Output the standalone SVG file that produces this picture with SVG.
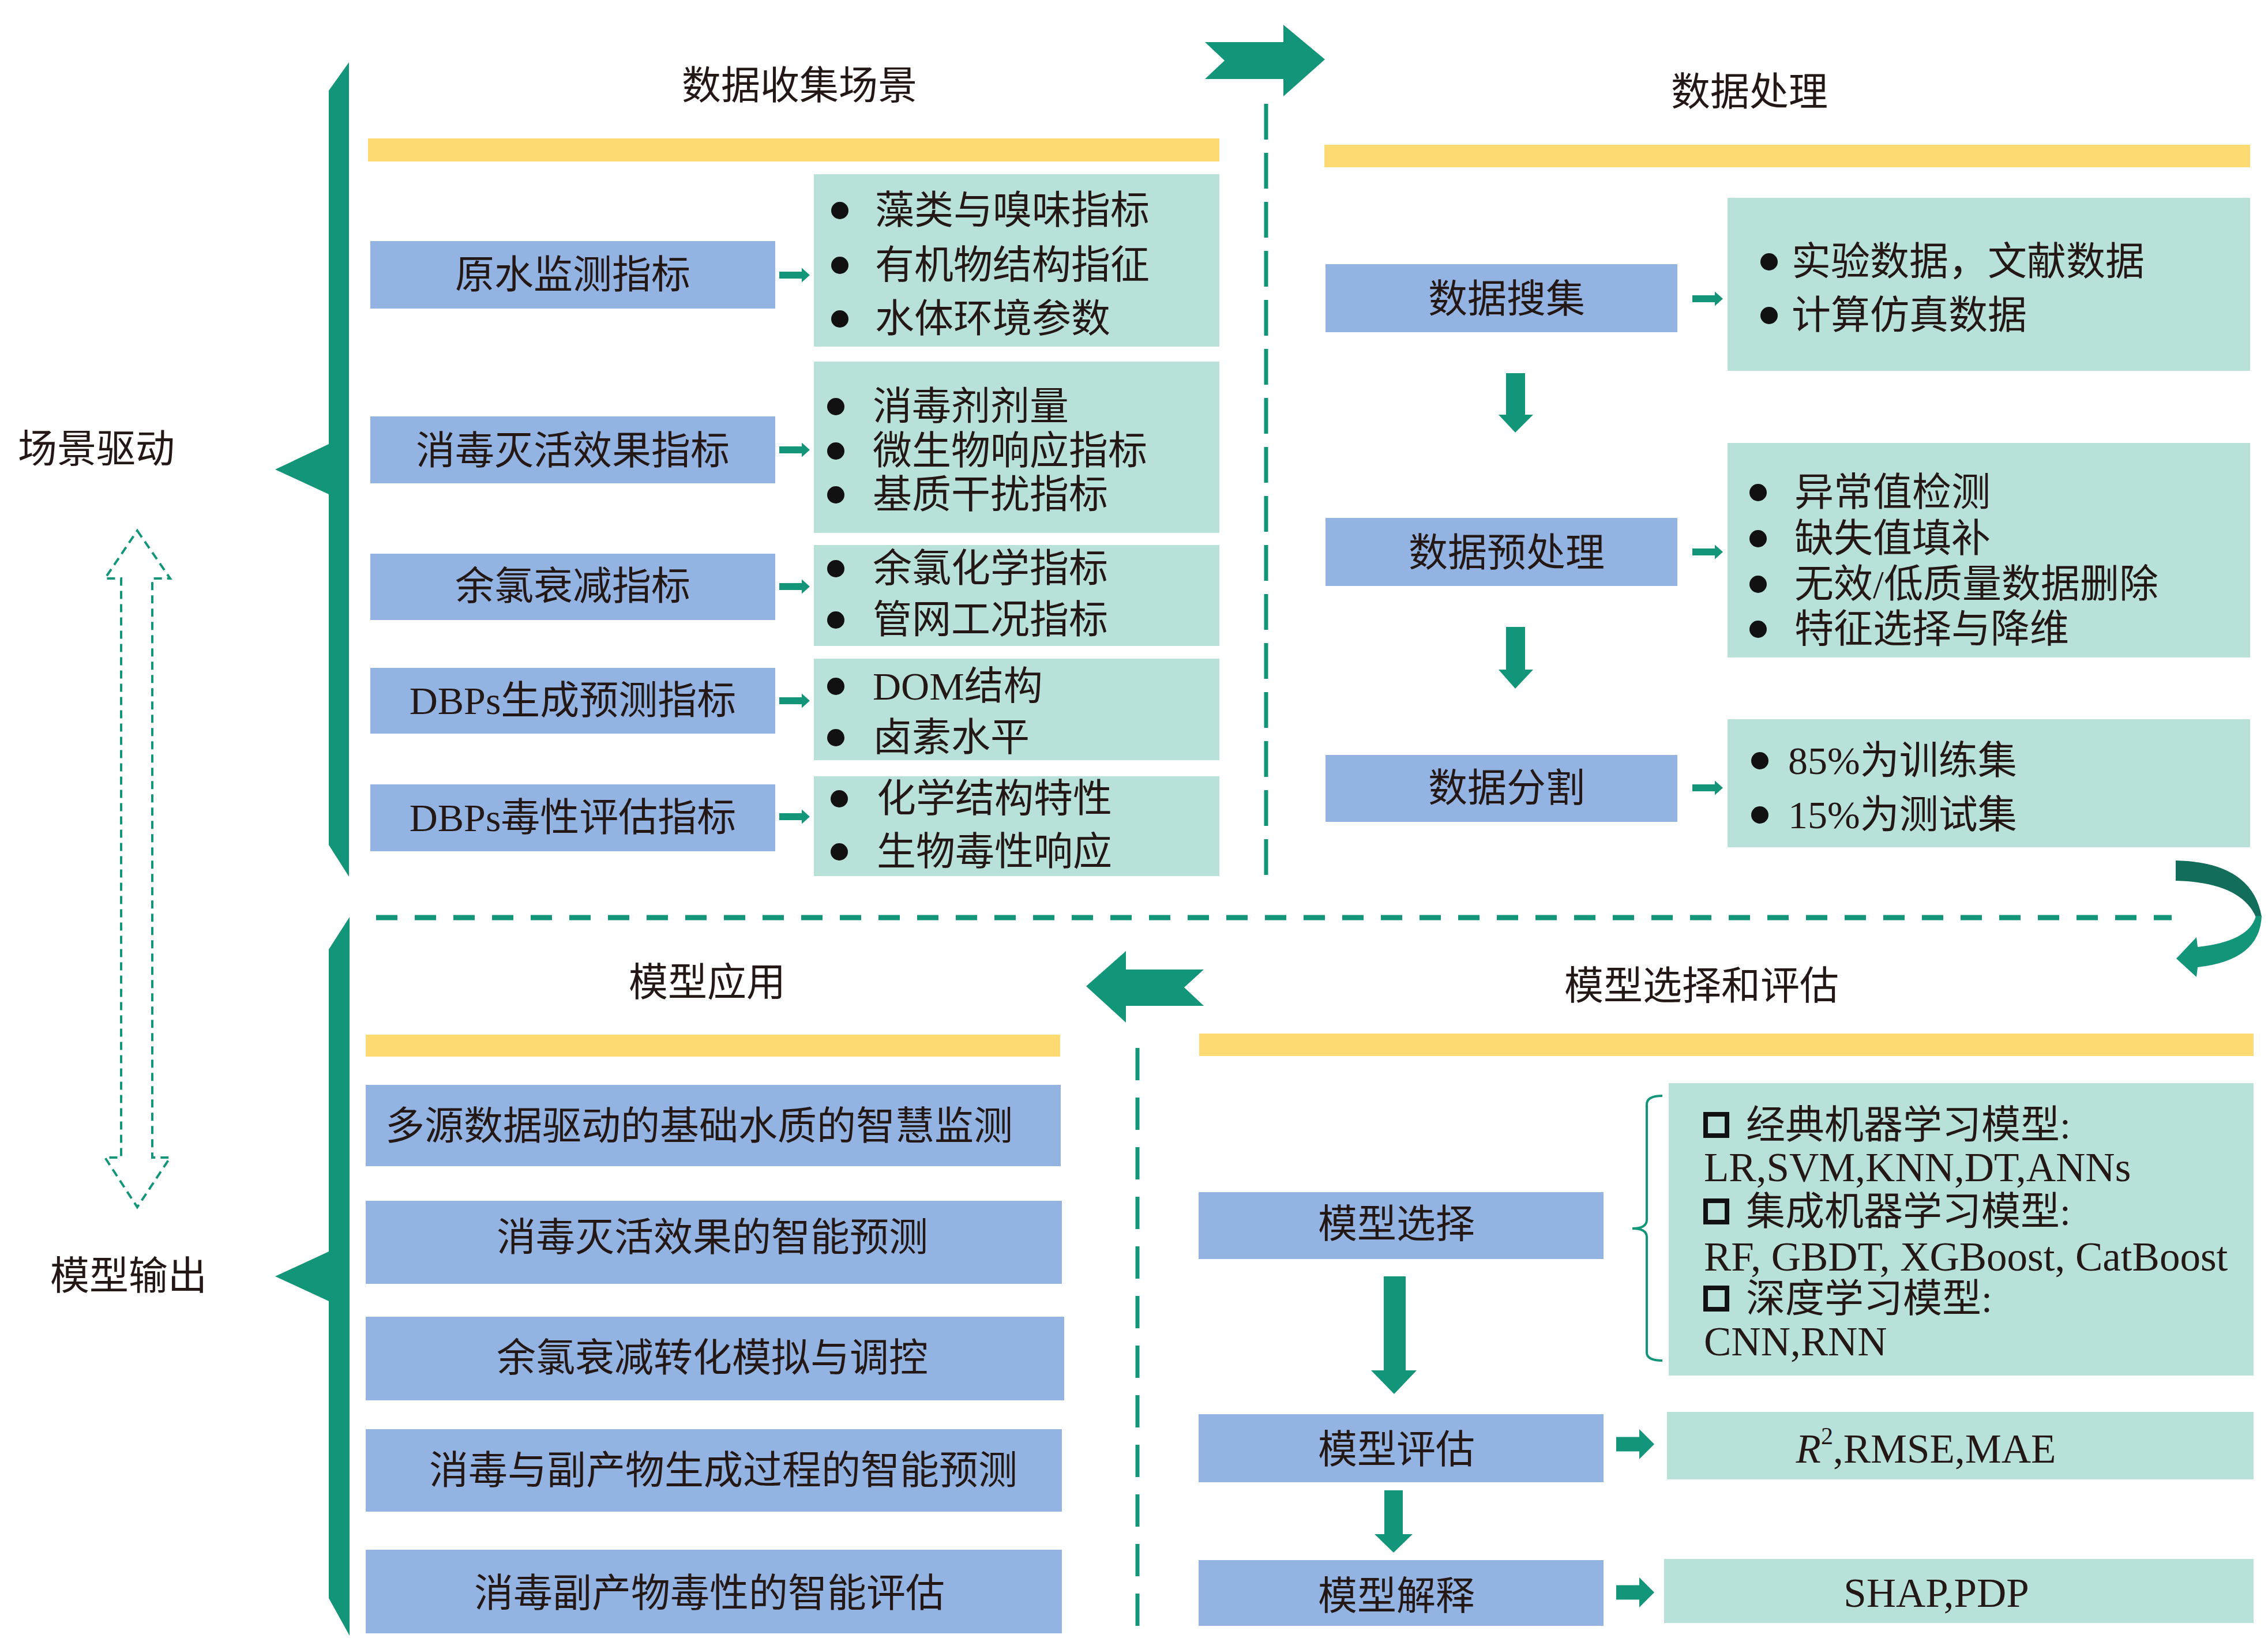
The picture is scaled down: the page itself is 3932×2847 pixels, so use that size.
<svg xmlns="http://www.w3.org/2000/svg" width="3932" height="2847" viewBox="0 0 3932 2847">
<style>
.t{font-family:"Liberation Serif","Noto Sans CJK SC",serif;font-size:68px;fill:#231815;dominant-baseline:central}
.L{font-size:71px}
.c{text-anchor:middle}
.bl{fill:#93b4e2}
.tl{fill:#b8e1da}
.yl{fill:#fdda72}
.gr{fill:#13957a}
.dot{fill:#111}
.dash{fill:none;stroke:#13957a}
.chk{fill:none;stroke:#111;stroke-width:8}
</style>
<defs>
<path id="sa" d="M0,-6 H39 V-12.5 L53,0 L39,12.5 V6 H0 Z" fill="#13957a"/>
<path id="ba" d="M0,-12.5 H40 V-26 L66,0 L40,26 V12.5 H0 Z" fill="#13957a"/>
</defs>
<rect width="3932" height="2847" fill="#ffffff"/>

<!-- side labels and brackets -->
<g id="label-scene">
<text class="t" x="31" y="779">场景驱动</text>
</g>
<g id="label-output">
<text class="t" x="87" y="2213">模型输出</text>
</g>
<g id="bracket-top">
<polygon class="gr" points="605,108 605,1520 570,1465 570,857 477,814 570,770 570,157"/>
</g>
<g id="bracket-bottom">
<polygon class="gr" points="606,1590 606,2836 570,2771 570,2256 477,2213 570,2170 570,1646"/>
</g>

<!-- Section 1: data collection scenarios -->
<g id="sec-collect">
<text class="t c" x="1386" y="149">数据收集场景</text>
<rect class="yl" x="638" y="240" width="1476" height="40"/>
</g>
<g id="n-raw">
<rect class="bl" x="642" y="418" width="702" height="117"/>
<text class="t c" x="993" y="477">原水监测指标</text>
</g>
<g id="n-raw-items">
<rect class="tl" x="1411" y="302" width="703" height="299"/>
<circle class="dot" cx="1456" cy="365" r="15"/><text class="t" x="1517" y="365">藻类与嗅味指标</text>
<circle class="dot" cx="1456" cy="460" r="15"/><text class="t" x="1517" y="460">有机物结构指征</text>
<circle class="dot" cx="1456" cy="553" r="15"/><text class="t" x="1517" y="553">水体环境参数</text>
</g>
<g id="n-disinf">
<rect class="bl" x="642" y="722" width="702" height="116"/>
<text class="t c" x="993" y="782">消毒灭活效果指标</text>
</g>
<g id="n-disinf-items">
<rect class="tl" x="1411" y="627" width="703" height="297"/>
<circle class="dot" cx="1449" cy="705" r="15"/><text class="t" x="1513" y="705">消毒剂剂量</text>
<circle class="dot" cx="1449" cy="782" r="15"/><text class="t" x="1513" y="782">微生物响应指标</text>
<circle class="dot" cx="1449" cy="858" r="15"/><text class="t" x="1513" y="858">基质干扰指标</text>
</g>
<g id="n-chlorine">
<rect class="bl" x="642" y="960" width="702" height="115"/>
<text class="t c" x="993" y="1017">余氯衰减指标</text>
</g>
<g id="n-chlorine-items">
<rect class="tl" x="1411" y="945" width="703" height="175"/>
<circle class="dot" cx="1449" cy="986" r="15"/><text class="t" x="1513" y="986">余氯化学指标</text>
<circle class="dot" cx="1449" cy="1075" r="15"/><text class="t" x="1513" y="1075">管网工况指标</text>
</g>
<g id="n-dbpgen">
<rect class="bl" x="642" y="1158" width="702" height="114"/>
<text class="t c" x="993" y="1215">DBPs生成预测指标</text>
</g>
<g id="n-dbpgen-items">
<rect class="tl" x="1411" y="1142" width="703" height="176"/>
<circle class="dot" cx="1449" cy="1190" r="15"/><text class="t" x="1513" y="1190">DOM结构</text>
<circle class="dot" cx="1449" cy="1279" r="15"/><text class="t" x="1513" y="1279">卤素水平</text>
</g>
<g id="n-dbptox">
<rect class="bl" x="642" y="1360" width="702" height="116"/>
<text class="t c" x="993" y="1418">DBPs毒性评估指标</text>
</g>
<g id="n-dbptox-items">
<rect class="tl" x="1411" y="1346" width="703" height="173"/>
<circle class="dot" cx="1455" cy="1385" r="15"/><text class="t" x="1520" y="1385">化学结构特性</text>
<circle class="dot" cx="1455" cy="1477" r="15"/><text class="t" x="1520" y="1477">生物毒性响应</text>
</g>

<!-- Section 2: data processing -->
<g id="sec-process">
<text class="t c" x="3033" y="160">数据处理</text>
<rect class="yl" x="2296" y="251" width="1605" height="39"/>
</g>
<g id="n-gather">
<rect class="bl" x="2298" y="458" width="610" height="118"/>
<text class="t c" x="2612" y="519">数据搜集</text>
</g>
<g id="n-gather-items">
<rect class="tl" x="2995" y="343" width="906" height="300"/>
<circle class="dot" cx="3067" cy="454" r="15"/><text class="t" x="3106" y="454">实验数据，文献数据</text>
<circle class="dot" cx="3067" cy="547" r="15"/><text class="t" x="3106" y="547">计算仿真数据</text>
</g>
<g id="n-preproc">
<rect class="bl" x="2298" y="898" width="610" height="118"/>
<text class="t c" x="2612" y="959">数据预处理</text>
</g>
<g id="n-preproc-items">
<rect class="tl" x="2995" y="768" width="906" height="372"/>
<circle class="dot" cx="3048" cy="854" r="15"/><text class="t" x="3111" y="854">异常值检测</text>
<circle class="dot" cx="3048" cy="934" r="15"/><text class="t" x="3111" y="934">缺失值填补</text>
<circle class="dot" cx="3048" cy="1013" r="15"/><text class="t" x="3111" y="1013">无效/低质量数据删除</text>
<circle class="dot" cx="3048" cy="1091" r="15"/><text class="t" x="3111" y="1091">特征选择与降维</text>
</g>
<g id="n-split">
<rect class="bl" x="2298" y="1309" width="610" height="116"/>
<text class="t c" x="2612" y="1367">数据分割</text>
</g>
<g id="n-split-items">
<rect class="tl" x="2995" y="1247" width="906" height="222"/>
<circle class="dot" cx="3051" cy="1319" r="15"/><text class="t" x="3100" y="1319">85%为训练集</text>
<circle class="dot" cx="3051" cy="1413" r="15"/><text class="t" x="3100" y="1413">15%为测试集</text>
</g>

<!-- Section 3: model application -->
<g id="sec-apply">
<text class="t c" x="1226" y="1704">模型应用</text>
<rect class="yl" x="634" y="1794" width="1204" height="38"/>
</g>
<g id="n-app1">
<rect class="bl" x="634" y="1881" width="1205" height="141"/>
<text class="t c" x="1212" y="1953">多源数据驱动的基础水质的智慧监测</text>
</g>
<g id="n-app2">
<rect class="bl" x="634" y="2082" width="1207" height="144"/>
<text class="t c" x="1235" y="2146">消毒灭活效果的智能预测</text>
</g>
<g id="n-app3">
<rect class="bl" x="634" y="2283" width="1211" height="145"/>
<text class="t c" x="1235" y="2355">余氯衰减转化模拟与调控</text>
</g>
<g id="n-app4">
<rect class="bl" x="634" y="2478" width="1207" height="143"/>
<text class="t c" x="1254" y="2550">消毒与副产物生成过程的智能预测</text>
</g>
<g id="n-app5">
<rect class="bl" x="634" y="2687" width="1207" height="145"/>
<text class="t c" x="1230" y="2763">消毒副产物毒性的智能评估</text>
</g>

<!-- Section 4: model selection and evaluation -->
<g id="sec-model">
<text class="t c" x="2950" y="1710">模型选择和评估</text>
<rect class="yl" x="2079" y="1792" width="1828" height="39"/>
</g>
<g id="n-msel">
<rect class="bl" x="2078" y="2067" width="702" height="116"/>
<text class="t c" x="2421" y="2123">模型选择</text>
</g>
<g id="n-msel-items">
<rect class="tl" x="2893" y="1878" width="1014" height="507"/>
<rect class="chk" x="2957" y="1932" width="37" height="37"/>
<text class="t" x="3027" y="1951">经典机器学习模型:</text>
<text class="t L" x="2954" y="2024">LR,SVM,KNN,DT,ANNs</text>
<rect class="chk" x="2957" y="2082" width="37" height="37"/>
<text class="t" x="3027" y="2101">集成机器学习模型:</text>
<text class="t L" x="2954" y="2179">RF, GBDT, XGBoost, CatBoost</text>
<rect class="chk" x="2957" y="2233" width="37" height="37"/>
<text class="t" x="3027" y="2252">深度学习模型:</text>
<text class="t L" x="2954" y="2326">CNN,RNN</text>
</g>
<g id="n-meval">
<rect class="bl" x="2078" y="2452" width="702" height="118"/>
<text class="t c" x="2421" y="2514">模型评估</text>
</g>
<g id="n-meval-items">
<rect class="tl" x="2890" y="2448" width="1017" height="117"/>
<text class="t L c" x="3339" y="2512"><tspan font-style="italic">R</tspan><tspan font-size="42" dy="-22">2</tspan><tspan dy="22">,RMSE,MAE</tspan></text>
</g>
<g id="n-mexp">
<rect class="bl" x="2078" y="2705" width="702" height="114"/>
<text class="t c" x="2421" y="2768">模型解释</text>
</g>
<g id="n-mexp-items">
<rect class="tl" x="2885" y="2703" width="1022" height="111"/>
<text class="t L c" x="3357" y="2762">SHAP,PDP</text>
</g>

<!-- connectors -->
<g id="connectors">
<!-- scene/output double dashed arrow -->
<polygon class="dash" stroke-width="4" stroke-dasharray="14 9" points="238,920 295,1003 264,1003 264,2007 295,2007 238,2093 182,2007 210,2007 210,1003 182,1003"/>
<!-- section dividers -->
<line class="dash" x1="2195" y1="180" x2="2195" y2="1530" stroke-width="7" stroke-dasharray="62 23"/>
<line class="dash" x1="652" y1="1591" x2="3765" y2="1591" stroke-width="9" stroke-dasharray="37 30"/>
<line class="dash" x1="1972" y1="1817" x2="1972" y2="2823" stroke-width="7" stroke-dasharray="56 30"/>
<!-- big flow arrows -->
<polygon class="gr" points="2089,73 2225,73 2225,43 2297,103 2225,167 2225,137 2089,137 2123,105"/>
<polygon class="gr" points="2087,1681 1952,1681 1952,1649 1883,1710 1952,1773 1952,1744 2087,1744 2053,1712"/>
<path d="M3772,1492 Q3905,1495 3921,1590 L3911,1590 Q3885,1530 3772,1527 Z" fill="#126e5a"/>
<path d="M3911,1588 Q3900,1632 3810,1642 L3808,1625 L3773,1662 L3808,1694 L3810,1677 Q3918,1665 3921,1588 Z" fill="#13957a"/>
<!-- small right arrows, section 1 -->
<use href="#sa" x="1351" y="477"/>
<use href="#sa" x="1351" y="780"/>
<use href="#sa" x="1351" y="1017"/>
<use href="#sa" x="1351" y="1215"/>
<use href="#sa" x="1351" y="1416"/>
<!-- section 2 -->
<use href="#sa" x="2934" y="518"/>
<use href="#sa" x="2934" y="957"/>
<use href="#sa" x="2934" y="1366"/>
<polygon class="gr" points="2611,647 2644,647 2644,719 2658,719 2627,750 2598,719 2611,719"/>
<polygon class="gr" points="2611,1087 2644,1087 2644,1161 2658,1161 2627,1194 2598,1161 2611,1161"/>
<!-- section 4 -->
<polygon class="gr" points="2399,2213 2437,2213 2437,2376 2456,2376 2417,2417 2377,2376 2399,2376"/>
<polygon class="gr" points="2400,2584 2432,2584 2432,2660 2449,2660 2416,2692 2383,2660 2400,2660"/>
<use href="#ba" x="2802" y="2504"/>
<use href="#ba" x="2802" y="2761"/>
<path d="M2882,1900 Q2855,1900 2855,1915 L2855,2115 Q2855,2130 2830,2130 Q2855,2130 2855,2145 L2855,2345 Q2855,2359 2882,2359" fill="none" stroke="#13957a" stroke-width="4"/>
</g>
</svg>
